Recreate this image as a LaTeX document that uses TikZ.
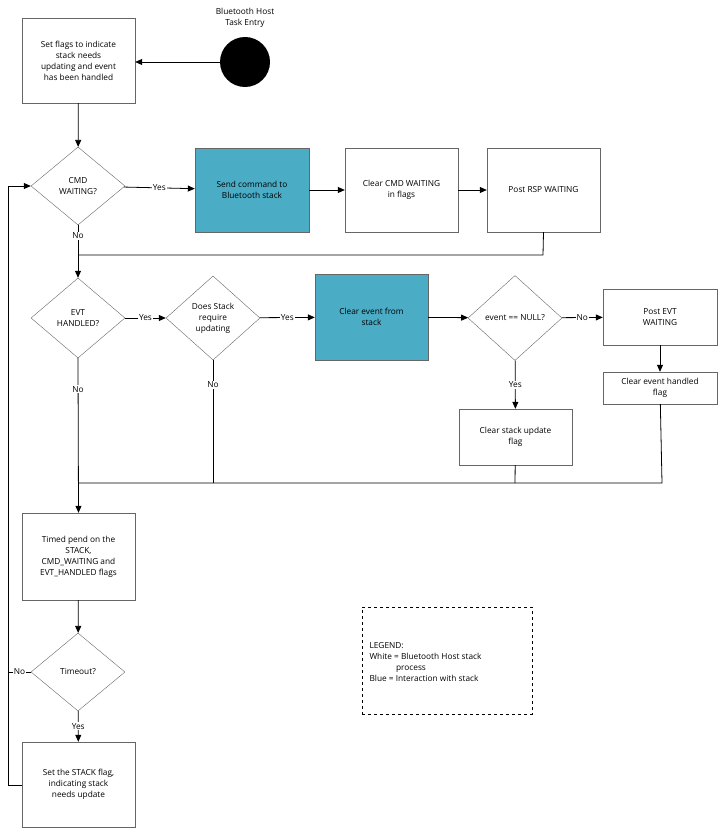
\documentclass[tikz,border=0pt]{standalone}
\usepackage{fontspec}
\setmainfont{Open Sans}
\usetikzlibrary{shapes.geometric,arrows.meta}
\definecolor{bl}{HTML}{4BACC6}
\begin{document}
\begin{tikzpicture}[x=1pt,y=-1pt,font=\fontsize{8.3}{11}\selectfont,
 box/.style={draw=black!60,fill=white,align=center,inner sep=1pt},
 blue/.style={box,fill=bl},
 dia/.style={draw=black!60,diamond,aspect=1.2,align=center,inner sep=0pt},
 arr/.style={-{Triangle[length=7pt,width=6pt]},line width=0.8pt},
 ln/.style={line width=0.8pt},
 lab/.style={fill=white,inner sep=1pt}]
\useasboundingbox (0,0) rectangle (725,829);
\node[circle,fill=black,minimum size=50pt] (start) at (245,62) {};
\node[align=center] (st) at (245,18) {Bluetooth Host\\Task Entry};
\node[box,minimum width=113pt,minimum height=85pt] (b1) at (78.5,60.5) {Set flags to indicate\\stack needs\\updating and event\\has been handled};
\node[dia,minimum width=94pt,minimum height=78pt] (cmd) at (78,186) {CMD\\WAITING?};
\node[blue,minimum width=114pt,minimum height=84pt] (send) at (252,190) {Send command to\\Bluetooth stack};
\node[box,minimum width=113pt,minimum height=84pt] (clr) at (401.5,190) {Clear CMD WAITING\\in flags};
\node[box,minimum width=113pt,minimum height=84pt] (rsp) at (543.5,190) {Post RSP WAITING};
\node[dia,minimum width=94pt,minimum height=80pt] (evt) at (78,318) {EVT\\HANDLED?};
\node[dia,minimum width=94pt,minimum height=84pt] (does) at (213,318) {Does Stack\\require\\updating};
\node[blue,minimum width=113pt,minimum height=86pt] (ce) at (371.5,317) {Clear event from\\stack};
\node[dia,minimum width=94pt,minimum height=85pt] (null) at (515,318) {event == NULL?};
\node[box,minimum width=114pt,minimum height=56pt] (pe) at (660,317) {Post EVT\\WAITING};
\node[box,minimum width=114pt,minimum height=32pt] (ceh) at (660,388) {Clear event handled\\flag};
\node[box,minimum width=113pt,minimum height=56pt] (csu) at (515.5,437) {Clear stack update\\flag};
\node[box,minimum width=113pt,minimum height=87pt] (tp) at (78.5,556.5) {Timed pend on the\\STACK,\\CMD\_WAITING and\\EVT\_HANDLED flags};
\node[dia,minimum width=94pt,minimum height=78pt] (to) at (78,672) {Timeout?};
\node[box,minimum width=113pt,minimum height=85pt] (set) at (78.5,784.5) {Set the STACK flag,\\indicating stack\\needs update};
\node[draw,dashed,line width=0.8pt,minimum width=170pt,minimum height=107pt] (leg) at (447,660.5) {};
\node[align=left,anchor=west] (legt) at (366,662) {LEGEND:\\White = Bluetooth Host stack\\\hspace{3.2em}process\\Blue = Interaction with stack};
\coordinate (j1) at (543,255);
\coordinate (j1b) at (78,255);
\coordinate (j2) at (78,483);
\coordinate (j3) at (213,483);
\coordinate (j4) at (515,483);
\coordinate (j5) at (662,483);
\coordinate (l1) at (8,672);
\coordinate (l2) at (8,785);
\coordinate (l3) at (8,186);
\draw[arr] (start) -- (b1.east|-start);
\draw[arr] (b1) -- (cmd);
\draw[arr] (cmd) -- node[lab]{Yes} (send);
\draw[arr] (send) -- (clr);
\draw[arr] (clr) -- (rsp);
\draw[ln] (rsp.south) -- (j1) -- (j1b);
\draw[ln] (cmd.south) -- node[lab,pos=0.35]{No} (j1b);
\draw[arr] (j1b) -- (evt);
\draw[arr] (evt) -- node[lab]{Yes} (does);
\draw[arr] (does) -- node[lab]{Yes} (ce);
\draw[arr] (ce) -- (null);
\draw[arr] (null) -- node[lab]{No} (pe);
\draw[arr] (pe) -- (ceh);
\draw[arr] (null) -- node[lab]{Yes} (csu);
\draw[arr] (evt.south) -- node[lab,pos=0.2]{No} (tp.north);
\draw[ln] (does.south) -- node[lab,pos=0.2]{No} (j3);
\draw[ln] (csu) -- (j4);
\draw[ln] (ceh) -- (j5) -- (j2);
\draw[arr] (tp) -- (to);
\draw[arr] (to) -- node[lab]{Yes} (set);
\draw[ln] (to.west) -- node[lab]{No} (l1);
\draw[arr] (set.west|-l2) -- (l2) -- (l3) -- (cmd.west);
\end{tikzpicture}
\end{document}
